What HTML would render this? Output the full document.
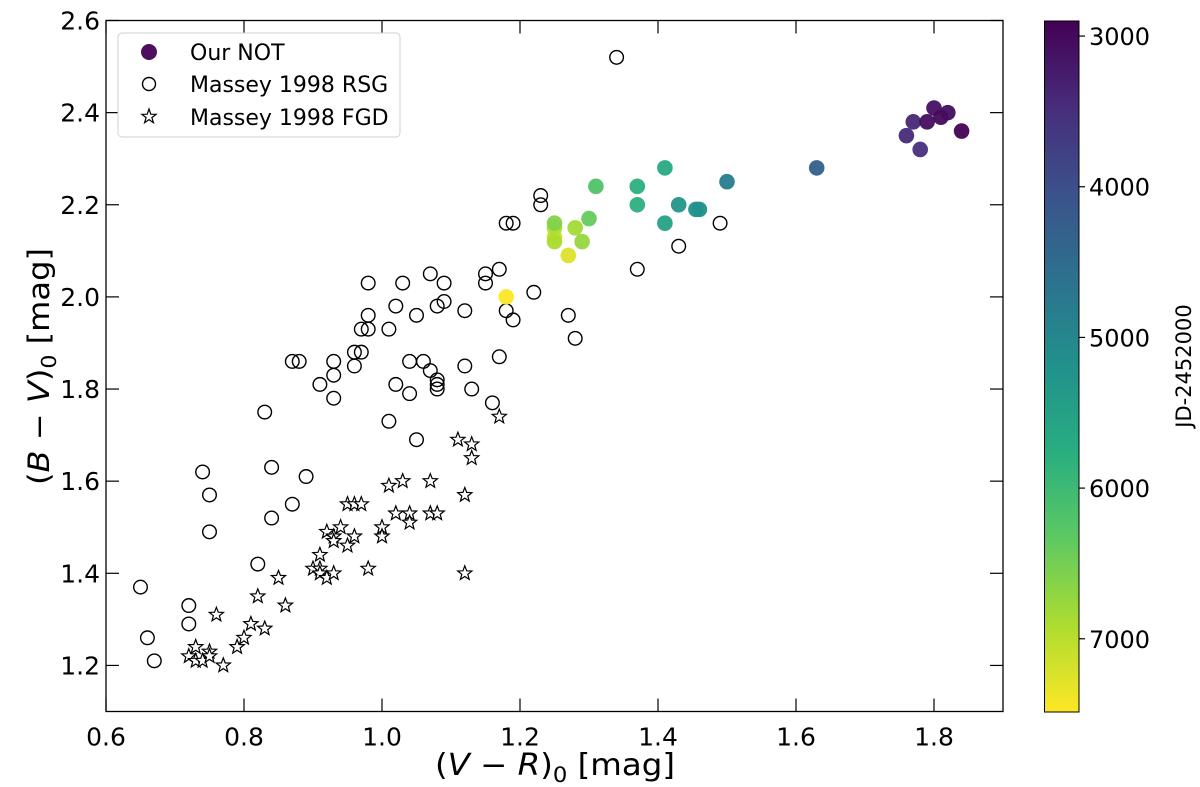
<!DOCTYPE html>
<html><head><meta charset="utf-8"><style>
html,body{margin:0;padding:0;background:#fff;}
svg{display:block;font-family:"DejaVu Sans","Liberation Sans",sans-serif;}
</style></head><body>
<svg id="chart" width="1200" height="787" viewBox="0 0 1200 787" xmlns="http://www.w3.org/2000/svg">
<defs>
<linearGradient id="vir" x1="0" y1="0" x2="0" y2="1">
<stop offset="0" stop-color="#440154"/><stop offset="0.125" stop-color="#472d7b"/><stop offset="0.25" stop-color="#3b528b"/><stop offset="0.375" stop-color="#2c728e"/><stop offset="0.5" stop-color="#21918c"/><stop offset="0.625" stop-color="#28ae80"/><stop offset="0.75" stop-color="#5ec962"/><stop offset="0.875" stop-color="#addc30"/><stop offset="1" stop-color="#fde725"/>
</linearGradient>
</defs>
<g id="marks"></g>
<rect x="106" y="20.5" width="897" height="691" fill="none" stroke="#000" stroke-width="1.3"/>
<g id="axes"></g>
<text x="435" y="775" font-size="30" textLength="240" lengthAdjust="spacingAndGlyphs">(<tspan font-style="italic">V</tspan> − <tspan font-style="italic">R</tspan>)<tspan font-size="21" dy="7">0</tspan><tspan dy="-7"> [mag]</tspan></text>
<text transform="translate(49,485) rotate(-90)" font-size="29" textLength="237" lengthAdjust="spacingAndGlyphs">(<tspan font-style="italic">B</tspan> − <tspan font-style="italic">V</tspan>)<tspan font-size="20" dy="7">0</tspan><tspan dy="-7"> [mag]</tspan></text>
<rect x="1044.5" y="21" width="34.5" height="691" fill="url(#vir)" stroke="#000" stroke-width="1"/>
<g id="cbaxis"></g>
<text transform="translate(1191,366) rotate(-90)" font-size="21" text-anchor="middle">JD-2452000</text>
<g>
<rect x="118" y="33" width="282" height="104" rx="4" fill="#fff" stroke="#d0d0d0" stroke-width="1"/>
<circle cx="149" cy="52" r="8" fill="#440154" opacity="0.95"/>
<text x="190" y="60" font-size="22">Our NOT</text>
<circle cx="149" cy="84" r="6.5" fill="none" stroke="#000" stroke-width="1.4"/>
<text x="190" y="92" font-size="22">Massey 1998 RSG</text>
<polygon points="149,109 150.8,114.2 156.1,114.3 151.9,117.6 153.4,122.7 149,119.6 144.6,122.7 146.1,117.6 141.9,114.3 147.2,114.2" fill="#fff" stroke="#000" stroke-width="1.2"/>
<text x="190" y="125" font-size="22">Massey 1998 FGD</text>
</g>
</svg>
<script>
const rsgX=[1.34,1.23,1.23,1.18,1.19,1.17,1.15,1.15,1.22,1.19,1.18,1.27,1.28,1.37,1.43,1.49,1.17,1.16,1.13,1.12,1.12,0.98,1.03,1.07,1.09,1.02,1.05,1.08,1.09,0.98,0.97,0.98,1.01,0.96,0.97,0.87,0.88,0.93,0.96,1.04,1.06,1.07,1.08,1.08,1.08,0.91,0.93,1.02,0.93,1.04,0.83,1.01,1.05,0.74,0.84,0.89,0.75,0.87,0.84,0.75,0.82,0.65,0.72,0.72,0.66,0.67];
const rsgY=[2.52,2.22,2.20,2.16,2.16,2.06,2.05,2.03,2.01,1.95,1.97,1.96,1.91,2.06,2.11,2.16,1.87,1.77,1.80,1.85,1.97,2.03,2.03,2.05,2.03,1.98,1.96,1.98,1.99,1.96,1.93,1.93,1.93,1.88,1.88,1.86,1.86,1.86,1.85,1.86,1.86,1.84,1.82,1.81,1.80,1.81,1.83,1.81,1.78,1.79,1.75,1.73,1.69,1.62,1.63,1.61,1.57,1.55,1.52,1.49,1.42,1.37,1.33,1.29,1.26,1.21];
const fgdX=[1.17,1.11,1.13,1.13,1.01,1.03,1.07,1.12,0.95,0.96,0.97,1.02,1.04,1.04,1.07,1.08,0.94,1.00,1.00,0.92,0.93,0.93,0.95,0.96,0.91,0.90,0.91,0.91,0.92,0.93,0.98,1.12,0.85,0.82,0.86,0.76,0.81,0.83,0.80,0.79,0.73,0.72,0.73,0.74,0.75,0.75,0.77];
const fgdY=[1.74,1.69,1.68,1.65,1.59,1.60,1.60,1.57,1.55,1.55,1.55,1.53,1.53,1.51,1.53,1.53,1.50,1.50,1.48,1.49,1.48,1.47,1.46,1.48,1.44,1.41,1.41,1.40,1.39,1.40,1.41,1.40,1.39,1.35,1.33,1.31,1.29,1.28,1.26,1.24,1.24,1.22,1.21,1.21,1.23,1.22,1.20];
const notX=[1.18,1.27,1.25,1.25,1.25,1.25,1.28,1.29,1.30,1.31,1.37,1.37,1.41,1.41,1.43,1.455,1.46,1.50,1.63,1.78,1.76,1.77,1.80,1.79,1.81,1.82,1.84];
const notY=[2.00,2.09,2.13,2.12,2.15,2.16,2.15,2.12,2.17,2.24,2.24,2.20,2.28,2.16,2.20,2.19,2.19,2.25,2.28,2.32,2.35,2.38,2.41,2.38,2.39,2.40,2.36];
const notJD=[7480,7250,7150,6900,6950,6600,6850,6750,6400,6200,5800,5800,5700,5500,5300,5200,5200,4800,4300,3500,3450,3400,3100,3050,3000,3050,2920];
const xTicks=[0.6,0.8,1.0,1.2,1.4,1.6,1.8];
const yTicks=[1.2,1.4,1.6,1.8,2.0,2.2,2.4,2.6];
const cbTicks=[3000,4000,5000,6000,7000];
const X0=0.6,X1=1.9,Y0=1.1,Y1=2.6,L=106,R=1003,T=20.5,B=711.5;
const CBMIN=2900,CBMAX=7486,CBT=21,CBB=712;
const sx=v=>L+(v-X0)/(X1-X0)*(R-L);
const sy=v=>B-(v-Y0)/(Y1-Y0)*(B-T);
const sc=v=>CBT+(v-CBMIN)/(CBMAX-CBMIN)*(CBB-CBT);
const vir=["#440154","#472d7b","#3b528b","#2c728e","#21918c","#28ae80","#5ec962","#addc30","#fde725"];
function hex(h){return [1,3,5].map(i=>parseInt(h.substr(i,2),16));}
function cmap(t){t=Math.max(0,Math.min(1,t));const p=t*8,i=Math.min(7,Math.floor(p)),f=p-i;const a=hex(vir[i]),b=hex(vir[i+1]);return "rgb("+a.map((c,k)=>Math.round(c+(b[k]-c)*f)).join(",")+")";}
const NS="http://www.w3.org/2000/svg";
function mk(tag,attrs,parent){const e=document.createElementNS(NS,tag);for(const k in attrs)e.setAttribute(k,attrs[k]);parent.appendChild(e);return e;}
const marks=document.getElementById('marks'),axes=document.getElementById('axes'),cb=document.getElementById('cbaxis');
function star(cx,cy,r){let p=[];for(let i=0;i<10;i++){const a=-Math.PI/2+i*Math.PI/5,rr=i%2?r*0.42:r;p.push((cx+rr*Math.cos(a)).toFixed(1)+","+(cy+rr*Math.sin(a)).toFixed(1));}return p.join(" ");}
rsgX.forEach((x,i)=>{const c=mk('circle',{cx:sx(x),cy:sy(rsgY[i]),r:6.8,fill:'none',stroke:'#000','stroke-width':1.4},marks);

});
fgdX.forEach((x,i)=>{const s=mk('polygon',{points:star(sx(x),sy(fgdY[i]),7.5),fill:'#fff',stroke:'#000','stroke-width':1.2},marks);

});
notX.forEach((x,i)=>{const c=mk('circle',{cx:sx(x),cy:sy(notY[i]),r:7.8,fill:cmap((notJD[i]-CBMIN)/(CBMAX-CBMIN)),opacity:0.95},marks);

});
xTicks.forEach(v=>{const x=sx(v);
mk('line',{x1:x,x2:x,y1:B,y2:B-13,stroke:'#000','stroke-width':1.2},axes);
mk('line',{x1:x,x2:x,y1:T,y2:T+13,stroke:'#000','stroke-width':1.2},axes);
const t=mk('text',{x:x,y:B+34,'font-size':25,'text-anchor':'middle'},axes);t.textContent=v.toFixed(1);

});
yTicks.forEach(v=>{const y=sy(v);
mk('line',{x1:L,x2:L+13,y1:y,y2:y,stroke:'#000','stroke-width':1.2},axes);
mk('line',{x1:R,x2:R-13,y1:y,y2:y,stroke:'#000','stroke-width':1.2},axes);
const t=mk('text',{x:L-6,y:y+9,'font-size':25,'text-anchor':'end'},axes);t.textContent=v.toFixed(1);

});
cbTicks.forEach(v=>{const y=sc(v);
mk('line',{x1:1079,x2:1085,y1:y,y2:y,stroke:'#000','stroke-width':1.2},cb);
const t=mk('text',{x:1089,y:y+9,'font-size':24},cb);t.textContent=v;

});
</script>
</body></html>
